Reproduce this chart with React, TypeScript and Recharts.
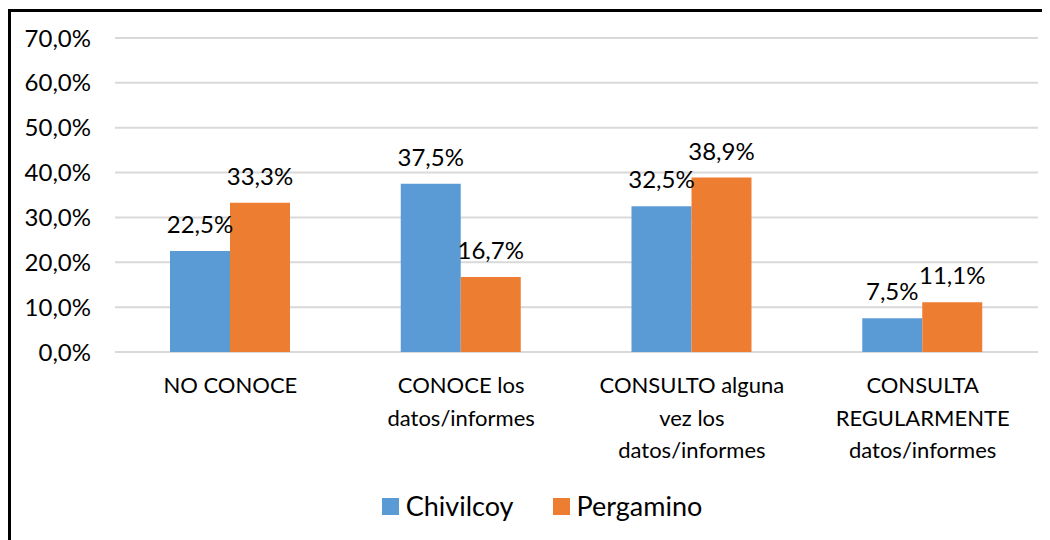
import React from "react";
import { BarChart, Bar, XAxis, YAxis, CartesianGrid, Legend, LabelList } from "recharts";

const categories = [
  "NO CONOCE",
  "CONOCE los\ndatos/informes",
  "CONSULTO alguna\nvez los\ndatos/informes",
  "CONSULTA\nREGULARMENTE\ndatos/informes",
];
const chivilcoy = [22.5, 37.5, 32.5, 7.5];
const pergamino = [33.3, 16.7, 38.9, 11.1];
const yTicks = [0, 10, 20, 30, 40, 50, 60, 70];

const data = categories.map((c, i) => ({ name: c, Chivilcoy: chivilcoy[i], Pergamino: pergamino[i] }));

const FONT = "Lato, 'Open Sans', sans-serif";
const BLUE = "#5B9BD5";
const ORANGE = "#ED7D31";

const fmt = (v: number) => `${Number(v).toFixed(1).replace(".", ",")}%`;

const XTick = (props: any) => {
  const { x, y, payload } = props;
  const lines = String(payload.value).split("\n");
  return (
    <text x={x} y={y + 35} textAnchor="middle" fill="#000" fontFamily={FONT} fontSize={22}>
      {lines.map((l, i) => (
        <tspan key={i} x={x} dy={i === 0 ? 0 : 32.5}>
          {l}
        </tspan>
      ))}
    </text>
  );
};

const LegendContent = () => {
  const items = [
    { name: "Chivilcoy", color: BLUE },
    { name: "Pergamino", color: ORANGE },
  ];
  return (
    <div style={{ display: "flex", justifyContent: "center", fontFamily: FONT, fontSize: 27, color: "#000", lineHeight: "32px", paddingLeft: 38 }}>
      {items.map((it, i) => (
        <div key={it.name} style={{ display: "flex", alignItems: "center", marginLeft: i ? 39 : 0 }}>
          <div style={{ width: 17, height: 17, background: it.color, marginRight: 7 }} />
          <span>{it.name}</span>
        </div>
      ))}
    </div>
  );
};

export default function App() {
  return (
    <div style={{ position: "relative", width: 1042, height: 532, background: "#fff" }}>
      <div
        style={{
          position: "absolute",
          left: 0,
          top: 1,
          width: 1042,
          height: 531,
          borderLeft: "3px solid #000",
          borderTop: "3px solid #000",
          boxSizing: "border-box",
        }}
      />
      <div style={{ position: "absolute", left: 0, top: 0 }}>
        <BarChart
          width={1042}
          height={532}
          data={data}
          margin={{ top: 30, right: 12, left: 0, bottom: 0 }}
          barGap={0}
          barSize={60}
        >
          <CartesianGrid horizontal vertical={false} stroke="#d9d9d9" strokeWidth={2} />
          <XAxis
            dataKey="name"
            axisLine={false}
            tickLine={false}
            interval={0}
            height={150}
            tick={<XTick />}
            tickMargin={0}
          />
          <YAxis
            domain={[0, 70]}
            ticks={yTicks}
            width={107}
            axisLine={false}
            tickLine={false}
            tickSize={0}
            tickMargin={24}
            tickFormatter={fmt}
            tick={{ fill: "#000", fontFamily: FONT, fontSize: 24 }}
          />
          <Legend verticalAlign="bottom" height={38} content={<LegendContent />} wrapperStyle={{ top: 482 }} />
          <Bar dataKey="Chivilcoy" fill={BLUE} isAnimationActive={false}>
            <LabelList dataKey="Chivilcoy" position="top" offset={18} formatter={fmt as any} fill="#000" fontFamily={FONT} fontSize={24} />
          </Bar>
          <Bar dataKey="Pergamino" fill={ORANGE} isAnimationActive={false}>
            <LabelList dataKey="Pergamino" position="top" offset={18} formatter={fmt as any} fill="#000" fontFamily={FONT} fontSize={24} />
          </Bar>
        </BarChart>
      </div>
    </div>
  );
}
